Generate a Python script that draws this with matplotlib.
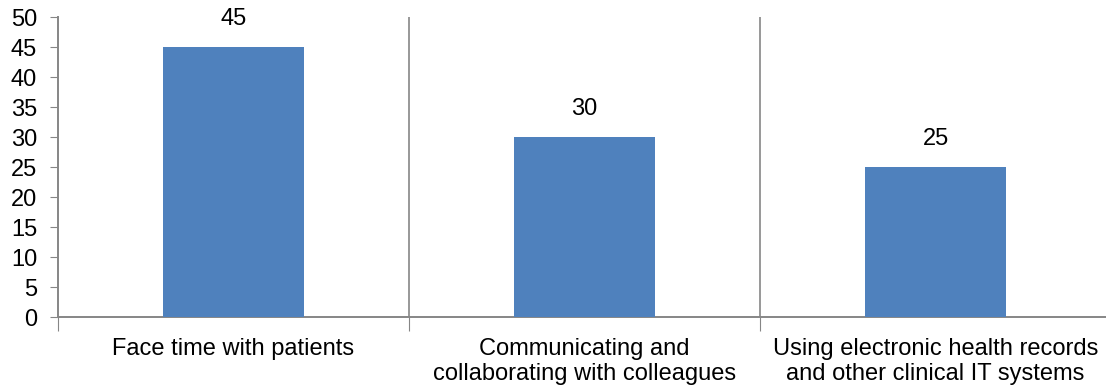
import matplotlib
matplotlib.use("Agg")
import matplotlib.pyplot as plt

categories = ["Face time with patients",
              "Communicating and\ncollaborating with colleagues",
              "Using electronic health records\nand other clinical IT systems"]
values = [45, 30, 25]
yticks = list(range(0, 51, 5))

plt.rcParams['font.family'] = ['Liberation Sans', 'DejaVu Sans']
fs = 17

fig = plt.figure(figsize=(11.06, 3.87), dpi=100)
ax = fig.add_axes([58 / 1106, 1 - 317 / 387, (1111 - 58) / 1106, 300 / 387])

x = list(range(len(categories)))
ax.bar(x, values, width=0.4, color='#4F81BD', zorder=3)

for xi, v in zip(x, values):
    ax.annotate(str(v), (xi, v), xytext=(0, 12), textcoords='offset points',
                ha='center', va='bottom', fontsize=fs, color='black')

ax.set_xlim(-0.5, len(categories) - 0.5)
ax.set_ylim(0, 50)
ax.set_yticks(yticks)
ax.tick_params(axis='y', labelsize=fs, length=6, color='#868686', pad=9)

# category boundaries as ticks and vertical gridlines
bounds = [i - 0.5 for i in range(len(categories))]
ax.set_xticks(bounds)
ax.set_xticklabels([])
ax.tick_params(axis='x', length=10, color='#868686')
ax.set_xticks(x, minor=True)
ax.set_xticklabels(categories, minor=True, fontsize=fs, linespacing=1.2)
ax.tick_params(axis='x', which='minor', length=0, pad=15)
for b in bounds[1:]:
    ax.axvline(b, color='#868686', linewidth=1.2, zorder=1)

for s in ['top', 'right']:
    ax.spines[s].set_visible(False)
for s in ['left', 'bottom']:
    ax.spines[s].set_color('#868686')
    ax.spines[s].set_linewidth(1.4)

fig.savefig('out.png', dpi=100)
